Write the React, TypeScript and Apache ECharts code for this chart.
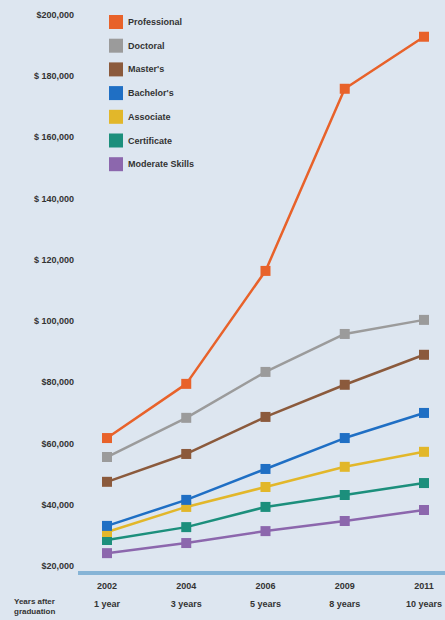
import React, { useEffect, useRef } from "react";
import * as echarts from "echarts";

const categories = ["2002\n1 year", "2004\n3 years", "2006\n5 years", "2009\n8 years", "2011\n10 years"];
const seriesNames = ["Professional", "Doctoral", "Master's", "Bachelor's", "Associate", "Certificate", "Moderate Skills"];
const professional = [61800, 79500, 116400, 175900, 192900];
const doctoral = [55600, 68400, 83400, 95800, 100400];
const masters = [47500, 56600, 68700, 79200, 89000];
const bachelors = [33100, 41600, 51700, 61800, 70000];
const associate = [31100, 39300, 45800, 52400, 57300];
const certificate = [28500, 32700, 39300, 43200, 47100];
const moderateSkills = [24200, 27500, 31400, 34700, 38300];
const colors = ["#e8622a", "#9b9b9b", "#8b5a3c", "#1f6fc4", "#e2b72a", "#1c8f7c", "#8c67ad"];

export default function App() {
  const ref = useRef<HTMLDivElement>(null);
  useEffect(() => {
    document.body.style.margin = "0";
    const chart = echarts.init(ref.current!, undefined, { renderer: "svg" });
    const values = [professional, doctoral, masters, bachelors, associate, certificate, moderateSkills];
    const font = "Liberation Sans, Arial, sans-serif";
    chart.setOption({
      animation: false,
      backgroundColor: "#dde6f0",
      color: colors,
      grid: { left: 107, right: 15, top: 15, bottom: 54 },
      legend: {
        orient: "vertical",
        left: 104,
        top: 10,
        itemWidth: 14,
        itemHeight: 14,
        itemGap: 9.7,
        icon: "rect",
        textStyle: { fontFamily: font, fontSize: 9, fontWeight: "bold", color: "#333" },
        data: seriesNames,
      },
      xAxis: {
        type: "category",
        data: categories,
        boundaryGap: false,
        axisLine: { show: false },
        axisTick: { show: false },
        axisLabel: {
          fontFamily: font,
          fontSize: 9,
          fontWeight: "bold",
          color: "#333",
          lineHeight: 18,
          margin: 11,
        },
      },
      yAxis: {
        type: "value",
        min: 20000,
        max: 200000,
        interval: 20000,
        splitLine: { show: false },
        axisLine: { show: false },
        axisTick: { show: false },
        axisLabel: {
          fontFamily: font,
          fontSize: 9,
          fontWeight: "bold",
          color: "#333",
          margin: 33,
          formatter: (v: number) => "$" + (v >= 100000 && v < 200000 ? " " : "") + v.toLocaleString("en-US"),
        },
      },
      graphic: [
        { type: "rect", shape: { x: 78, y: 571, width: 367, height: 4 }, style: { fill: "#86b4d6" } },
        {
          type: "text",
          left: 14,
          top: 596,
          style: { text: "Years after\ngraduation", fontFamily: font, fontSize: 8, fontWeight: "bold", fill: "#333", lineHeight: 10 },
        },
      ],
      series: seriesNames.map((name, i) => ({
        name,
        type: "line",
        data: values[i],
        symbol: "rect",
        symbolSize: 10,
        lineStyle: { width: 2.5, color: colors[i] },
        itemStyle: { color: colors[i] },
        z: 10 - i,
      })),
    });
    return () => chart.dispose();
  }, []);
  return <div ref={ref} style={{ width: 445, height: 620 }} />;
}
